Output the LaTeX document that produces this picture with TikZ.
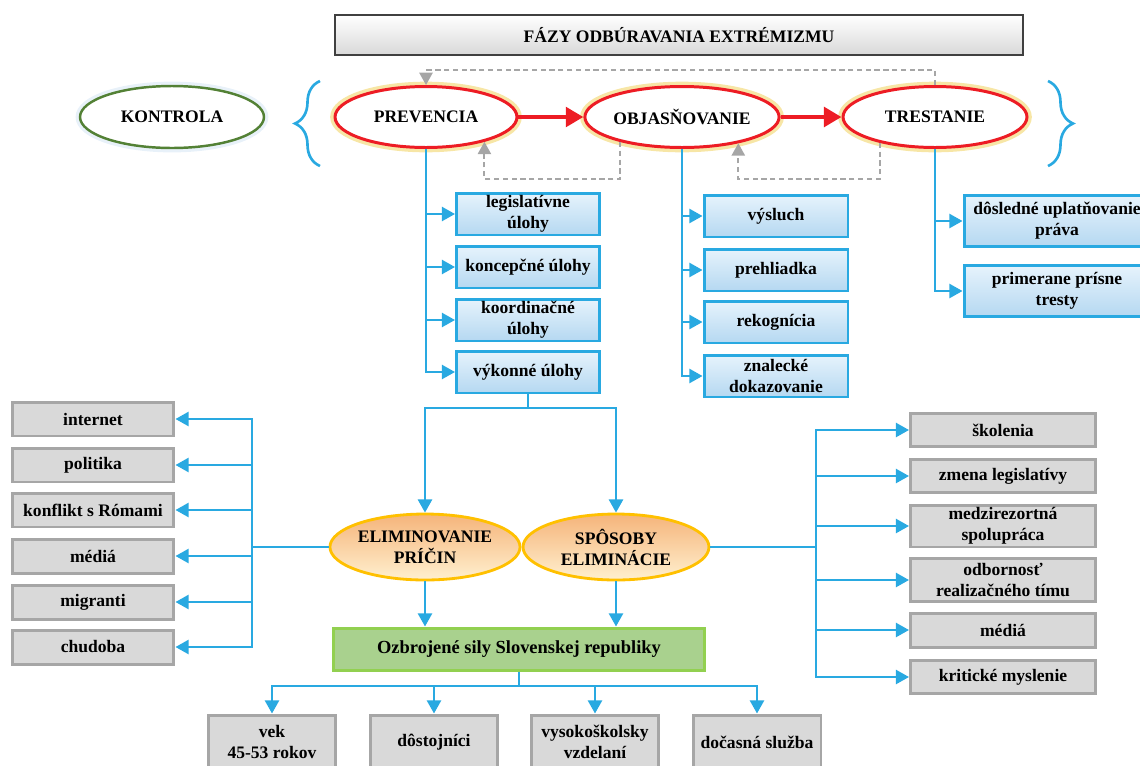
\documentclass[tikz,border=0pt]{standalone}
\usepackage{fontspec}
\setmainfont{Liberation Serif}
\usetikzlibrary{arrows.meta,shapes.geometric,decorations.pathreplacing}
\definecolor{bl}{HTML}{29A9E1}
\definecolor{bltop}{HTML}{E6F3FC}
\definecolor{blbot}{HTML}{B5D8F1}
\definecolor{gbf}{HTML}{D9D9D9}
\definecolor{gbd}{HTML}{A6A6A6}
\definecolor{rd}{HTML}{ED1C24}
\definecolor{glow}{HTML}{F7E6A6}
\definecolor{gr}{HTML}{A6A6A6}
\definecolor{grn}{HTML}{538135}
\definecolor{orT}{HTML}{F5B47A}
\definecolor{orB}{HTML}{FFF0CF}
\definecolor{orD}{HTML}{FFC000}
\definecolor{gf}{HTML}{A9D18E}
\definecolor{gd}{HTML}{92D050}
\definecolor{kglow}{HTML}{E8F1F9}
\begin{document}
\begin{tikzpicture}[x=0.02cm,y=-0.02cm,
  font=\fontsize{10}{12}\selectfont\bfseries,
  bbox/.style={rectangle, draw=bl, line width=1.7pt, top color=bltop, bottom color=blbot, minimum width=2.86cm, minimum height=0.84cm, align=center, inner sep=1pt},
  gbox/.style={rectangle, draw=gbd, line width=1.7pt, fill=gbf, align=center, inner sep=1pt},
  lbox/.style={gbox, minimum width=3.24cm, minimum height=0.68cm},
  rbox/.style={gbox, minimum width=3.7cm},
  botbox/.style={gbox, minimum width=2.56cm, minimum height=1.08cm},
  redell/.style={ellipse, draw=rd, line width=1.7pt, fill=white, preaction={draw=glow, line width=5.5pt}, minimum height=1.22cm, inner sep=0pt},
  orell/.style={ellipse, draw=orD, line width=1.6pt, top color=orT, bottom color=orB, minimum width=3.72cm, minimum height=1.32cm, inner sep=0pt, align=center},
  bline/.style={draw=bl, line width=1.4pt},
  barr/.style={draw=bl, line width=1.4pt, -{Triangle[length=7.5pt,width=8pt]}},
  rarr/.style={draw=rd, line width=2.8pt, -{Triangle[length=10pt,width=11pt]}},
  garr/.style={draw=gr, line width=1.1pt, dash pattern=on 3pt off 2pt, -{Triangle[length=7pt,width=7.5pt]}},
  bracestyle/.style={draw=bl, line width=1.5pt, decorate, decoration={brace, amplitude=0.5cm}}
]
\useasboundingbox (0,0) rectangle (1140,765);

% title
\node[rectangle, draw=black!75, line width=0.8pt, top color=white, bottom color=gray!30, minimum width=13.76cm, minimum height=0.8cm] (title) at (679,35) {FÁZY ODBÚRAVANIA EXTRÉMIZMU};

% top ellipses
\node[ellipse, draw=grn, line width=1.4pt, fill=white, preaction={draw=kglow, line width=5pt}, minimum width=3.68cm, minimum height=1.24cm, inner sep=0pt] (kontrola) at (172,117) {KONTROLA};
\node[redell, minimum width=3.64cm] (prev) at (426,117) {PREVENCIA};
\node[redell, minimum width=3.76cm] (obj) at (682,117) {OBJASŇOVANIE};
\node[redell, minimum width=3.68cm] (trest) at (935,117) {TRESTANIE};

% braces
\coordinate (lb1) at (320,166);
\coordinate (lb2) at (320,81);
\coordinate (rb1) at (1048,81);
\coordinate (rb2) at (1048,166);
\draw[bracestyle] (lb1) -- (lb2);
\draw[bracestyle] (rb1) -- (rb2);

% red arrows
\draw[rarr] (prev.east) -- (obj.west);
\draw[rarr] (obj.east) -- (trest.west);

% gray dashed feedback
\coordinate (gt) at (935,70);
\draw[garr] (trest.north) -- (gt) -| (prev.north);
\coordinate (gb1) at (550,179);
\coordinate (gb2) at (810,179);
\draw[garr] (obj.202) |- (gb1) -| (prev.337);
\draw[garr] (trest.205) |- (gb2) -| (obj.335);

% prevencia boxes
\node[bbox] (leg) at (528,214) {legislatívne\\úlohy};
\node[bbox] (konc) at (528,267) {koncepčné úlohy};
\node[bbox] (koord) at (528,320) {koordinačné\\úlohy};
\node[bbox] (vyk) at (528,372) {výkonné úlohy};
\foreach \b in {leg,konc,koord,vyk} \draw[barr] (prev.south) |- (\b.west);

% objasnovanie boxes
\node[bbox, minimum width=2.88cm] (vys) at (776,216) {výsluch};
\node[bbox, minimum width=2.88cm] (preh) at (776,270) {prehliadka};
\node[bbox, minimum width=2.88cm] (rek) at (776,322) {rekognícia};
\node[bbox, minimum width=2.88cm] (znal) at (776,376) {znalecké\\dokazovanie};
\foreach \b in {vys,preh,rek,znal} \draw[barr] (obj.south) |- (\b.west);

% trestanie boxes
\node[bbox, minimum width=3.72cm, minimum height=1.02cm] (dos) at (1057,221) {dôsledné uplatňovanie\\práva};
\node[bbox, minimum width=3.72cm, minimum height=1.02cm] (prim) at (1057,291) {primerane prísne\\tresty};
\foreach \b in {dos,prim} \draw[barr] (trest.south) |- (\b.west);

% elimination ellipses
\node[orell] (elim) at (425,547) {ELIMINOVANIE\\PRÍČIN};
\node[orell] (spos) at (616,547) {SPÔSOBY\\ELIMINÁCIE};
\coordinate (vj) at (528,408);
\draw[bline] (vyk.south) -- (vj);
\draw[barr] (vj) -| (elim.north);
\draw[barr] (vj) -| (spos.north);

% left boxes
\node[lbox] (l1) at (93,419) {internet};
\node[lbox] (l2) at (93,465) {politika};
\node[lbox] (l3) at (93,510) {konflikt s Rómami};
\node[lbox] (l4) at (93,556) {médiá};
\node[lbox] (l5) at (93,602) {migranti};
\node[lbox] (l6) at (93,647) {chudoba};
\coordinate (lbus) at (252,547);
\draw[bline] (elim.west) -- (lbus);
\foreach \b in {l1,l2,l3,l4,l5,l6} \draw[barr] (lbus) |- (\b.east);

% right boxes
\node[rbox, minimum height=0.66cm] (r1) at (1003,430) {školenia};
\node[rbox, minimum height=0.66cm] (r2) at (1003,476) {zmena legislatívy};
\node[rbox, minimum height=0.84cm] (r3) at (1003,526) {medzirezortná\\spolupráca};
\node[rbox, minimum height=0.86cm] (r4) at (1003,580) {odbornosť\\realizačného tímu};
\node[rbox, minimum height=0.68cm] (r5) at (1003,630) {médiá};
\node[rbox, minimum height=0.66cm] (r6) at (1003,677) {kritické myslenie};
\coordinate (rbus) at (816,547);
\draw[bline] (spos.east) -- (rbus);
\foreach \b in {r1,r2,r3,r4,r5,r6} \draw[barr] (rbus) |- (\b.west);

% armed forces
\node[rectangle, draw=gd, line width=1.7pt, fill=gf, minimum width=7.44cm, minimum height=0.84cm, font=\fontsize{10.5}{12}\selectfont\bfseries] (ozb) at (519,649) {Ozbrojené sily Slovenskej republiky};
\draw[barr] (elim.south) -- (elim.south |- ozb.north);
\draw[barr] (spos.south) -- (spos.south |- ozb.north);

% bottom boxes
\node[botbox] (b1) at (272,742) {vek\\45-53 rokov};
\node[botbox] (b2) at (434,742) {dôstojníci};
\node[botbox] (b3) at (595,742) {vysokoškolsky\\vzdelaní};
\node[botbox] (b4) at (757,742) {dočasná služba};
\coordinate (oj) at (519,686);
\draw[bline] (ozb.south) -- (oj);
\foreach \b in {b1,b2,b3,b4} \draw[barr] (oj) -| (\b.north);
\end{tikzpicture}
\end{document}
